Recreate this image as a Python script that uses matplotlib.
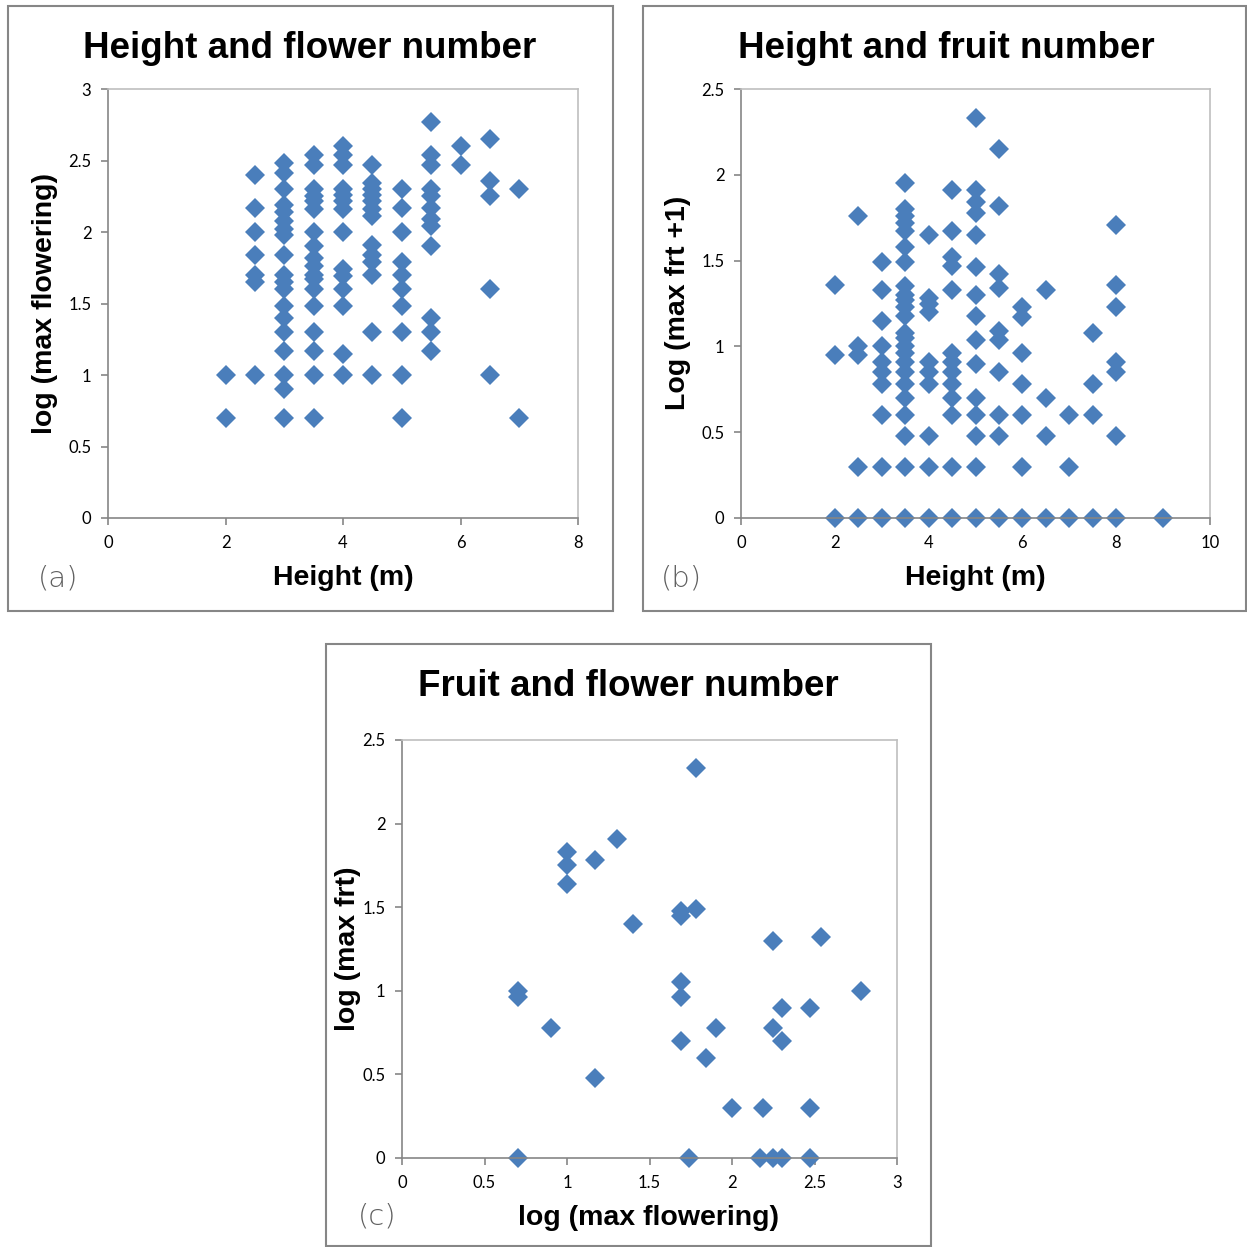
import numpy as np
import matplotlib
matplotlib.use("Agg")
import matplotlib.pyplot as plt
from matplotlib.patches import Rectangle
from matplotlib.ticker import FuncFormatter

# %%
# (a) height vs log(max flowering)
a_height = ([2] * 2 + [2.5] * 7 + [3] * 19 + [3.5] * 18 + [4] * 14 + [4.5] * 13
            + [5] * 10 + [5.5] * 12 + [6] * 2 + [6.5] * 5 + [7] * 2)
a_flower = [1.0, 0.70,
            2.40, 2.17, 2.0, 1.84, 1.70, 1.65, 1.0,
            2.48, 2.41, 2.30, 2.19, 2.14, 2.08, 2.02, 1.98, 1.84, 1.70, 1.65, 1.60,
            1.48, 1.40, 1.30, 1.17, 1.0, 0.90, 0.70,
            2.54, 2.47, 2.30, 2.25, 2.22, 2.16, 2.0, 1.90, 1.82, 1.76, 1.70, 1.67,
            1.60, 1.48, 1.30, 1.17, 1.0, 0.70,
            2.60, 2.54, 2.47, 2.30, 2.26, 2.22, 2.16, 2.0, 1.74, 1.69, 1.60, 1.48,
            1.15, 1.0,
            2.47, 2.34, 2.30, 2.26, 2.22, 2.16, 2.11, 1.91, 1.84, 1.79, 1.70, 1.30, 1.0,
            2.30, 2.17, 2.0, 1.79, 1.70, 1.60, 1.48, 1.30, 1.0, 0.70,
            2.77, 2.54, 2.47, 2.30, 2.25, 2.17, 2.09, 2.04, 1.90, 1.40, 1.30, 1.17,
            2.60, 2.47,
            2.65, 2.36, 2.25, 1.60, 1.0,
            2.30, 0.70]

# (b) height vs log(max frt + 1)
b_height = ([2] * 3 + [2.5] * 5 + [3] * 10 + [3.5] * 24 + [4] * 10 + [4.5] * 13
            + [5] * 15 + [5.5] * 10 + [6] * 7 + [6.5] * 4 + [7] * 3 + [7.5] * 4
            + [8] * 7 + [9])
b_fruit = [1.36, 0.95, 0,
           1.76, 1.0, 0.95, 0.30, 0,
           1.49, 1.33, 1.15, 1.0, 0.91, 0.85, 0.78, 0.60, 0.30, 0,
           1.95, 1.80, 1.76, 1.72, 1.67, 1.58, 1.49, 1.35, 1.30, 1.27, 1.23, 1.18,
           1.08, 1.05, 1.0, 0.96, 0.91, 0.85, 0.78, 0.70, 0.60, 0.48, 0.30, 0,
           1.65, 1.28, 1.25, 1.20, 0.91, 0.85, 0.78, 0.48, 0.30, 0,
           1.91, 1.67, 1.52, 1.47, 1.33, 0.96, 0.91, 0.85, 0.78, 0.70, 0.60, 0.30, 0,
           2.33, 1.91, 1.84, 1.78, 1.65, 1.46, 1.30, 1.18, 1.04, 0.90, 0.70, 0.60,
           0.48, 0.30, 0,
           2.15, 1.82, 1.42, 1.34, 1.09, 1.04, 0.85, 0.60, 0.48, 0,
           1.23, 1.17, 0.96, 0.78, 0.60, 0.30, 0,
           1.33, 0.70, 0.48, 0,
           0.60, 0.30, 0,
           1.08, 0.78, 0.60, 0,
           1.71, 1.36, 1.23, 0.91, 0.85, 0.48, 0,
           0]

# (c) log(max flowering) vs log(max frt)
c_flower = [1.78, 1.30, 1.0, 1.17, 1.0, 1.0, 1.69, 1.69, 1.78, 1.40, 2.25, 2.54,
            0.70, 0.70, 1.69, 1.69, 2.78, 2.30, 2.47, 0.90, 1.90, 2.25, 2.30, 1.69,
            1.84, 1.17, 2.0, 2.19, 2.47,
            0.70, 1.74, 2.17, 2.25, 2.30, 2.47]
c_fruit = [2.33, 1.91, 1.83, 1.78, 1.75, 1.64, 1.48, 1.45, 1.49, 1.40, 1.30, 1.32,
           1.0, 0.96, 1.05, 0.96, 1.0, 0.90, 0.90, 0.78, 0.78, 0.78, 0.70, 0.70,
           0.60, 0.48, 0.30, 0.30, 0.30,
           0, 0, 0, 0, 0, 0]

# %%
W = H = 1247
BLUE = '#4A7EBB'
GRAY = '#868686'


def fx(px):
    return px / W


def fy(py):
    return 1 - py / H


def make_ax(fig, l, r, t, b, xmax, ymax, xstep, ystep):
    ax = fig.add_axes([fx(l), fy(b), fx(r - l), (b - t) / H])
    ax.set_xlim(0, xmax)
    ax.set_ylim(0, ymax)
    ax.set_xticks(np.arange(0, xmax + 1e-9, xstep))
    ax.set_yticks(np.arange(0, ymax + 1e-9, ystep))
    fmt = FuncFormatter(lambda v, p: '{:g}'.format(round(v, 2)))
    ax.xaxis.set_major_formatter(fmt)
    ax.yaxis.set_major_formatter(fmt)
    for s in ax.spines.values():
        s.set_color('#BFBFBF')
        s.set_linewidth(1.2)
    ax.spines['left'].set_color(GRAY)
    ax.spines['bottom'].set_color(GRAY)
    ax.tick_params(direction='out', length=5, width=1.2, color=GRAY,
                   labelsize=12, pad=7)
    for lab in ax.get_xticklabels() + ax.get_yticklabels():
        lab.set_fontfamily('Lato')
    return ax


fig = plt.figure(figsize=(W / 100, H / 100), dpi=100)

# panel frames
for (l, t, r, b) in [(8, 6, 613, 611), (643, 6, 1246, 611), (326, 644, 931, 1246)]:
    fig.patches.append(Rectangle((fx(l), fy(b)), fx(r - l), (b - t) / H,
                                 transform=fig.transFigure, fill=False,
                                 edgecolor=GRAY, linewidth=1.5))

ax_a = make_ax(fig, 108, 578, 89, 518, 8, 3, 2, 0.5)
ax_a.plot(a_height, a_flower, 'D', color=BLUE, markersize=10, markeredgewidth=0,
          clip_on=False)

ax_b = make_ax(fig, 741, 1210, 89, 518, 10, 2.5, 2, 0.5)
ax_b.plot(b_height, b_fruit, 'D', color=BLUE, markersize=10, markeredgewidth=0,
          clip_on=False)

ax_c = make_ax(fig, 402, 897, 740, 1158, 3, 2.5, 0.5, 0.5)
ax_c.plot(c_flower, c_fruit, 'D', color=BLUE, markersize=10, markeredgewidth=0,
          clip_on=False)

title_kw = dict(fontsize=26.5, fontweight='bold', family='Liberation Sans',
                ha='center', va='center')
fig.text(fx(310), fy(48), 'Height and flower number', **title_kw)
fig.text(fx(946), fy(48), 'Height and fruit number', **title_kw)
fig.text(fx(628), fy(687), 'Fruit and flower number', **title_kw)

lab_kw = dict(fontsize=20.5, fontweight='bold', family='Liberation Sans',
              ha='center', va='center')
fig.text(fx(343), fy(578), 'Height (m)', **lab_kw)
fig.text(fx(975), fy(578), 'Height (m)', **lab_kw)
fig.text(fx(649), fy(1218), 'log (max flowering)', **lab_kw)
fig.text(fx(45), fy(303), 'log (max flowering)', rotation=90, **lab_kw)
fig.text(fx(678), fy(303), 'Log (max frt +1)', rotation=90, **lab_kw)
fig.text(fx(348), fy(949), 'log (max frt)', rotation=90, **lab_kw)

let_kw = dict(fontsize=21, family='DejaVu Sans', color='#606060',
              fontweight='light', ha='center', va='center')
fig.text(fx(58), fy(578), '(a)', **let_kw)
fig.text(fx(681), fy(578), '(b)', **let_kw)
fig.text(fx(377), fy(1217), '(c)', **let_kw)

fig.savefig('out.png', dpi=100)
